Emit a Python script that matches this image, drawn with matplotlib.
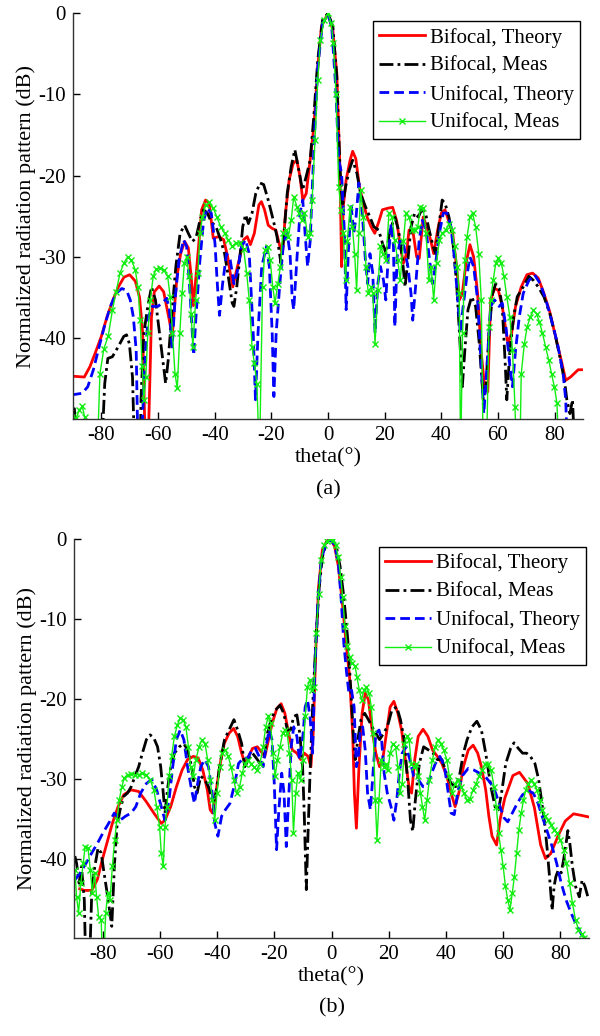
import matplotlib
matplotlib.use("Agg")
import matplotlib.pyplot as plt

plt.rcParams['font.family'] = ['Liberation Serif', 'DejaVu Serif']
plt.rcParams['axes.unicode_minus'] = False
plt.rcParams['font.size'] = 15

LOW = -55  # points below the visible range (clipped by the axes)

# ---------------- panel (a) ----------------
a_bth_x = [-90, -86, -84, -82, -80, -78, -76, -74, -72, -70, -68, -66.5, -65.4, -64.4, -63.6, -62.3, -61.3,
           -59.6, -58, -56, -55, -53.3, -52, -50.6, -49.3, -48.3, -47.5, -45.9, -44.6, -43.2, -41.9, -40.5,
           -38.5, -36.8, -35.4, -34.5, -33.6, -32.5, -31.1, -29.8, -28.5, -27.4, -26, -24.4, -23.5, -22.4,
           -21.1, -19.7, -18.4, -17, -16.1, -15, -13.7, -12.3, -11, -9.9, -8.9, -7.7, -6.3, -5, -3.6, -2.3,
           0, 1.7, 3.1, 4.2, 4.8, 5.4, 6.4, 7.8, 8.7, 9.8, 11.1, 12.5, 13.8, 15.2, 16.5, 17.9, 19.2, 21.2,
           22.8, 24.2, 25.2, 26.6, 27.7, 28.6, 29.9, 31.3, 32.2, 33.6, 34.9, 36.2, 37.3, 38.7, 40, 41.3,
           42.7, 44, 45.4, 46.4, 47.4, 48.7, 50.1, 51.4, 52.8, 54.1, 55.4, 56.4, 57.4, 58.8, 60.1, 61.5,
           63.5, 64.8, 66.2, 68.2, 70.2, 72.2, 74.2, 76.2, 78.3, 80.3, 82.3, 83.9, 85.6, 88.3, 90]
a_bth_y = [-44.7, -44.8, -43.5, -41.7, -39.8, -37.4, -35.4, -33.7, -32.5, -32.2, -33.0, -35.0, -39.4, LOW, LOW,
           -37.4, -34.3, -33.6, -34.3, -37.8, -39.8, -32.4, -29.6, -28.1, -28.9, -32.4, -36.0, -29.6, -24.2,
           -23.0, -23.4, -27.7, -27.5, -27.9, -30.0, -32.0, -33.7, -32.0, -30.0, -27.9, -27.5, -28.5, -27.1,
           -23.6, -23.2, -24.2, -26.1, -26.5, -26.7, -28.7, -29.6, -24.6, -20.5, -18.5, -18.1, -20.1, -23.0,
           -22.2, -18.1, -14.0, -6.6, -1.6, 0, -2.1, -7.4, -18.9, -31.2, -23.8, -20.5, -18.1, -17.0, -17.9,
           -21.4, -23.4, -25.1, -26.3, -27.1, -25.7, -24.2, -24.0, -23.9, -25.5, -27.9, -30.8, -29.6, -26.7,
           -26.7, -30.0, -30.2, -25.1, -26.3, -27.9, -29.6, -26.7, -24.6, -24.2, -25.7, -27.1, -31.2, -35.3,
           -34.5, -30.8, -28.5, -30.0, -34.5, -41.9, -46.4, -46.6, -35.3, -33.9, -34.1, -36.1, -40.7, -39.4,
           -36.1, -33.7, -32.2, -32.0, -32.6, -34.5, -36.8, -39.8, -42.7, -45.2, -44.8, -43.9, -43.9]

a_bme_x = [-90.5, -89.5, -88.6, -80, -78.8, -77.7, -76.1, -74.1, -72.1, -71.1, -70.1, -69, -68.2, -66.3, -66,
           -65, -63.6, -62.3, -60.9, -59.6, -58.3, -57.3, -56.4, -55, -53.7, -52.2, -50.6, -49.3, -47.9, -46.6,
           -45.2, -43.9, -42.6, -41.2, -39.5, -37.9, -36.5, -35.2, -33.8, -33.2, -32.2, -31.1, -30.1, -29.1,
           -28.1, -26.8, -25.5, -24, -22.7, -21.1, -19.3, -18, -16.6, -15.7, -14.4, -13, -11.7, -10.3, -9,
           -7.7, -6.3, -5, -3.6, -1.9, 0, 1.7, 3.1, 4.2, 5.1, 6.2, 7.5, 8.7, 10.2, 11.5, 13.2, 14.8, 16.2,
           17.9, 19.2, 20.5, 21.9, 23.6, 24.9, 26.3, 27.2, 28.2, 29.3, 30.6, 31.9, 33, 34.4, 35.7, 37.1, 38,
           39.1, 40.3, 41.3, 42.7, 44, 45.4, 46.4, 47.4, 48.3, 49.4, 50.7, 52.1, 53.4, 54.8, 55.8, 56.8, 58.1,
           59.2, 60.4, 61.5, 62.6, 63.1, 64.2, 65.5, 66.8, 68.9, 70.9, 72.5, 74.2, 76.2, 78.3, 80.3, 82.3,
           83.6, 84.3, 85.4, 86.3, 87.2]
a_bme_y = [-48.9, -48.7, LOW, LOW, -45.6, -42.5, -42.3, -41.1, -39.8, -39.6, -40.7, -44.8, LOW, LOW, -47.6,
           -39.4, -36.1, -33.7, -35.3, -39.0, -42.7, -45.6, -42.7, -36.5, -31.2, -27.1, -26.1, -27.1, -28.1,
           -27.7, -25.5, -24.2, -24.6, -25.7, -26.3, -27.9, -29.6, -32.4, -35.7, -36.1, -33.7, -30.0, -26.3,
           -24.8, -25.9, -24.6, -22.2, -20.9, -21.1, -23.0, -25.5, -27.5, -30.8, -27.9, -22.2, -18.9, -16.8,
           -19.3, -21.8, -20.1, -18.1, -12.7, -5.7, -0.8, 0, -1.6, -7.8, -18.9, -23.8, -21.4, -19.3, -18.1,
           -19.7, -22.2, -23.8, -25.1, -26.3, -26.7, -28.3, -29.6, -26.7, -25.1, -26.7, -30.4, -33.7, -30.4,
           -26.3, -24.6, -25.1, -24.2, -24.6, -26.7, -28.7, -29.6, -26.3, -23.0, -23.4, -25.1, -27.9, -33.3,
           -39.4, -46.0, -41.5, -36.5, -34.9, -36.1, -40.7, -47.6, -45.6, -39.4, -34.5, -33.3, -33.9, -36.1,
           -43.5, -47.6, -41.5, -37.4, -34.9, -33.7, -32.4, -32.9, -33.7, -34.9, -37.0, -39.8, -43.1, -45.6,
           -47.6, -49.3, -47.6, LOW]

a_uth_x = [-90.5, -86.8, -84.8, -82.8, -80.8, -78.8, -76.8, -74.8, -72.8, -71.1, -69.8, -68.7, -67.7, -67,
           -66, -65.2, -64.4, -63.4, -62, -60, -58, -56.9, -56, -55, -54, -52.6, -51, -49.9, -48.9, -47.9,
           -47.4, -46.6, -45.2, -43.9, -42.6, -41.2, -39.9, -39, -38.3, -37.2, -35.8, -34.5, -33.2, -32.1,
           -30.5, -29.1, -27.8, -26.4, -25.6, -24.7, -23.4, -21.7, -20.7, -19.7, -19.1, -18.3, -17, -15.7,
           -14.4, -13.4, -12.6, -12.1, -11, -9.9, -8.9, -8.1, -7.2, -6.3, -5, -3.6, -1.9, 0, 1.3, 2.7, 3.8,
           4.8, 5.8, 6.4, 7.2, 8.2, 9.1, 9.9, 10.9, 12.1, 13.2, 14, 14.8, 15.8, 16.6, 17.6, 18.5, 19.6, 20.4,
           21.2, 22.3, 23.1, 23.6, 24.4, 25.5, 26.8, 28.2, 29.3, 29.9, 30.9, 32.2, 33.3, 34.6, 36, 36.9, 38,
           39.3, 40.7, 42, 43.4, 44.7, 45.8, 46.7, 47.7, 49, 50.1, 51.4, 52.8, 54.1, 55, 56.1, 57.4, 58.8,
           60.4, 61.5, 62.8, 64.2, 65.1, 66.2, 67.5, 68.9, 70.9, 72.9, 74.9, 76.9, 78.9, 81, 83, 83.9, 84.6]
a_uth_y = [-47.0, -46.8, -46.0, -43.9, -41.1, -38.4, -36.1, -34.5, -33.9, -34.1, -35.3, -37.4, -41.5, LOW,
           LOW, -47.6, -41.5, -37.4, -36.1, -36.1, -35.5, -35.1, -36.5, -41.1, -35.3, -30.4, -27.9, -28.7,
           -33.3, -39.4, -42.1, -37.4, -30.4, -25.5, -24.0, -24.6, -28.3, -33.7, -37.2, -33.3, -29.6, -30.4,
           -33.3, -32.0, -28.7, -27.9, -29.6, -39.4, -47.6, -39.4, -31.2, -28.7, -31.2, -39.4, -47.2, -39.4,
           -33.3, -28.3, -27.1, -29.6, -35.3, -36.5, -30.4, -24.6, -23.0, -27.1, -31.2, -28.1, -16.8, -6.6,
           -1.2, -0.2, -1.6, -9.0, -18.1, -19.7, -27.1, -36.5, -29.2, -23.8, -27.1, -25.1, -20.9, -24.6, -30.4,
           -33.3, -29.6, -32.0, -39.4, -33.3, -31.2, -32.9, -35.3, -30.4, -25.9, -28.7, -38.6, -30.0, -27.9,
           -28.7, -31.2, -34.5, -37.8, -33.7, -27.9, -25.5, -26.7, -30.8, -33.3, -30.8, -27.1, -24.6, -24.6,
           -26.3, -30.4, -35.3, -39.4, -36.1, -32.4, -30.0, -31.2, -35.3, -43.5, -49.3, -43.5, -36.1, -35.3,
           -36.1, -35.7, -38.6, -43.5, -46.0, -41.5, -37.4, -34.5, -32.9, -32.2, -33.3, -35.3, -37.8, -40.7,
           -44.4, -47.6, LOW]

a_ume_x = [-90.2, -88.9, -87.8, -86.7, -85.9, -85, -81.5, -80.5, -79.1, -77.6, -76.1, -74.8, -73.4, -72.1,
           -70.7, -69.4, -68, -67.1, -66.3, -65.6, -65, -64.3, -63.6, -62.7, -61.7, -60.7, -59.3, -58, -56.6,
           -55.7, -54.9, -54, -53.2, -52.3, -51.5, -50.7, -49.9, -49, -48.3, -47.7, -46.7, -45.9, -45.2, -44.3,
           -43.2, -41.9, -40.5, -39.2, -37.9, -36.5, -35.2, -33.8, -32.5, -31.1, -29.8, -28.7, -27.8, -26.8,
           -26, -25.1, -24.2, -23.1, -22.3, -21.3, -20.4, -19.5, -18.7, -17.7, -16.8, -16, -15, -14, -13,
           -12.1, -11, -10.1, -9.3, -8.3, -7.2, -6.4, -5.6, -4.6, -3.6, -2.7, -1.3, 0, 1.1, 1.9, 2.8, 3.8,
           4.6, 5.4, 6.2, 6.8, 7.8, 8.6, 9.4, 10.1, 10.9, 11.5, 12.5, 13.4, 14.2, 15.2, 15.8, 16.6, 17.6,
           18.5, 19.5, 20.5, 21.5, 22.6, 23.5, 24.6, 25.5, 26.6, 27.5, 28.6, 29.7, 30.6, 31.7, 32.6, 33.6,
           34.6, 35.6, 36.4, 37.3, 38.3, 39.3, 40.4, 41.6, 42.7, 43.8, 44.7, 45.6, 46.3, 46.8, 47.5, 48.3,
           49.1, 50.1, 51, 52.1, 53.2, 54.1, 54.8, 55.9, 56.8, 57.4, 58.3, 59.2, 60.1, 61.2, 62.1, 63.1, 64.2,
           65.1, 66, 66.6, 67.7, 68.2, 69.3, 70.3, 71.4, 72.5, 73.6, 74.6, 75.7, 76.8, 77.9, 78.9, 79.9,
           80.8, 81.6]
a_ume_y = [-49.7, -49.9, -48.9, -48.4, -49.7, LOW, LOW, -44.4, -41.3, -39.8, -36.6, -34.3, -32.0, -30.8,
           -30.0, -30.4, -31.6, -33.7, -37.8, -43.5, -47.6, -44.8, -39.4, -35.3, -32.4, -31.5, -31.4, -31.6,
           -32.4, -34.9, -39.4, -44.4, -46.2, -39.4, -34.5, -30.8, -30.0, -32.4, -37.0, -41.1, -35.3, -32.0,
           -27.1, -25.1, -23.6, -23.3, -24.0, -25.1, -26.3, -27.1, -27.9, -28.7, -28.3, -28.3, -29.0, -32.0,
           -35.3, -41.1, -43.1, -45.6, LOW, -33.7, -29.2, -28.8, -30.4, -33.7, -35.7, -33.3, -31.2, -27.1,
           -26.7, -27.5, -25.5, -22.6, -23.8, -24.6, -25.5, -24.6, -27.5, -27.1, -23.0, -15.6, -8.2, -3.3,
           -0.8, 0, -1.2, -3.7, -9.9, -21.4, -24.2, -27.1, -32.9, -28.1, -23.8, -26.3, -29.6, -34.1, -27.1,
           -21.8, -25.1, -31.2, -34.5, -33.7, -34.5, -40.7, -34.1, -28.7, -29.6, -30.4, -24.6, -25.1, -27.9,
           -30.4, -32.9, -28.1, -24.6, -25.1, -26.7, -26.7, -26.3, -23.8, -24.0, -27.1, -32.9, -31.2, -35.3,
           -30.8, -27.9, -27.1, -26.7, -25.9, -26.7, -28.7, -31.2, -34.5, LOW, -39.4, -30.4, -27.5, -25.1,
           -24.6, -26.3, -29.6, -35.3, LOW, LOW, -38.6, -35.3, -32.9, -30.8, -30.2, -30.8, -32.4, -34.9, -37.4,
           -41.5, -48.5, LOW, LOW, -44.4, -40.7, -38.6, -37.4, -36.6, -37.0, -38.0, -39.4, -41.1, -42.7,
           -44.4, -46.0, -48.0, LOW]

# ---------------- panel (b) ----------------
b_bth_x = [-88, -86.4, -83.8, -81.8, -80.3, -78.6, -76.6, -74.6, -72.6, -70, -67.4, -64.7, -62.1, -59.5,
           -58.2, -56.2, -54.2, -52.2, -50.3, -48.3, -46.6, -45, -43.4, -42.4, -41.6, -40.4, -39.1, -37.5,
           -35.8, -34.2, -32.8, -31.4, -30.3, -29, -27.6, -25.9, -24.6, -23.3, -22, -20.7, -19.1, -17.6,
           -16.3, -15, -13.7, -12.1, -10.8, -9.5, -8.2, -7.2, -6.4, -5.5, -4.5, -3.2, -1.6, -0.3, 1.1, 2.4,
           3.7, 5, 6.3, 7.4, 8, 8.7, 9.6, 10.7, 11.8, 12.9, 14.2, 15.5, 16.8, 17.9, 19.2, 20.5, 21.8, 23.2,
           24.5, 25.8, 27.1, 28, 29.1, 30.3, 32, 33.7, 35.3, 37, 38.6, 40.3, 41.8, 43.2, 44.5, 46.1, 47.8,
           49.5, 51.1, 52.4, 53.9, 55, 56.1, 57.7, 59, 60.6, 63.4, 65.7, 68.6, 70.9, 73.1, 74.8, 76.6, 79.4,
           81.7, 84.6, 87.4, 90]
b_bth_y = [-43.8, -44.0, -44.0, -42.6, -40.4, -38.2, -35.6, -33.5, -32.0, -31.4, -31.6, -32.9, -34.3, -35.6,
           -35.2, -33.5, -31.0, -28.9, -27.6, -27.2, -27.4, -28.9, -31.4, -33.9, -34.3, -31.8, -28.5, -25.6,
           -24.3, -23.7, -24.7, -26.8, -28.1, -27.2, -26.2, -26.0, -26.6, -27.2, -25.1, -23.0, -21.2, -20.6,
           -21.8, -24.3, -26.4, -26.8, -27.6, -26.8, -27.2, -28.5, -24.3, -13.9, -5.9, -1.3, -0.2, 0, -0.9,
           -3.4, -7.6, -12.6, -17.2, -24.3, -31.8, -36.2, -28.5, -21.8, -19.3, -20.1, -23.9, -26.8, -28.5,
           -27.6, -24.3, -21.0, -20.3, -21.8, -23.9, -27.6, -31.0, -31.8, -27.6, -24.7, -23.8, -24.7, -26.4,
           -27.2, -28.1, -29.7, -31.8, -33.5, -31.8, -28.5, -26.4, -25.8, -26.8, -28.5, -31.4, -34.7, -37.2,
           -38.3, -35.0, -32.4, -29.6, -29.2, -30.6, -33.6, -38.3, -40.0, -39.4, -37.0, -35.3, -34.4, -34.6,
           -34.8]

b_bme_x = [-89.7, -89.1, -88.2, -87.4, -86.4, -85.8, -84.7, -83.8, -82.9, -81.6, -80.5, -79.5, -78.6, -77.6,
           -76.8, -75.9, -75, -73.9, -72.6, -71.3, -70, -68.7, -67.4, -66.1, -64.7, -63.4, -62.1, -60.8,
           -59.7, -58.8, -58.2, -57.2, -56.2, -54.9, -53.2, -51.6, -50.3, -48.9, -47.9, -47, -45.7, -44.3,
           -43, -41.3, -40.4, -39.1, -37.4, -35.8, -34.1, -32.8, -31.4, -30.3, -29, -27.6, -25.9, -24.3,
           -23.3, -22.4, -21.1, -19.6, -18, -16.7, -15.4, -14.3, -13.2, -12.1, -11.1, -10.1, -9.5, -8.8,
           -8.2, -7.5, -6.6, -5.5, -4.5, -3.2, -1.6, 0, 1.7, 3, 4.3, 5.7, 6.7, 7.6, 8.3, 9.2, 10.3, 11.6,
           12.9, 14.2, 15.5, 16.8, 18.2, 19.5, 21.1, 22.8, 24.1, 25.4, 26.7, 27.6, 28.4, 29.3, 30.7, 32.2,
           33.9, 35.5, 37, 38.6, 40.1, 41.8, 43.4, 44.7, 46.1, 47.4, 49.1, 50.8, 52.4, 53.9, 55.7, 57.4,
           58.4, 59.6, 60.9, 62.6, 63.8, 65.3, 66.8, 68.2, 69.5, 71.1, 72.4, 73.4, 74.5, 75.4, 76.3, 77.1,
           77.8, 78.4, 79.3, 80.3, 81.1, 82, 82.6, 83.3, 84.2, 85.3, 86.6, 87.6, 88.6, 89.6]
b_bme_y = [-39.7, -40.6, -43.1, -41.0, -45.2, LOW, LOW, -44.3, -41.4, -38.7, -39.3, -41.8, -43.9, -46.4,
           -48.5, -41.0, -36.0, -33.9, -32.2, -31.8, -31.0, -29.7, -28.5, -26.8, -25.1, -24.5, -24.9, -26.0,
           -28.5, -31.8, -34.3, -31.0, -28.5, -26.8, -26.0, -25.6, -26.4, -28.5, -31.0, -31.8, -29.7, -30.1,
           -31.0, -33.1, -31.8, -28.5, -25.1, -23.9, -22.6, -23.9, -25.6, -28.5, -27.6, -26.8, -27.6, -28.5,
           -26.8, -24.3, -22.6, -21.4, -20.8, -21.8, -23.9, -23.9, -22.2, -22.0, -24.3, -28.5, -34.7, -43.9,
           -36.8, -29.3, -21.0, -13.0, -6.8, -2.2, -0.3, 0, -0.9, -3.4, -7.2, -12.6, -18.5, -24.3, -27.6,
           -25.1, -22.6, -21.8, -22.6, -23.5, -24.3, -25.1, -24.3, -23.5, -21.4, -21.0, -22.6, -25.1, -30.6,
           -35.2, -36.6, -32.7, -28.1, -26.0, -26.4, -26.8, -27.6, -27.6, -29.3, -30.6, -31.0, -29.7, -26.8,
           -25.1, -23.5, -22.8, -23.9, -26.8, -31.0, -33.9, -33.9, -31.4, -28.1, -26.2, -25.5, -26.2, -26.8,
           -26.8, -27.2, -28.1, -30.1, -32.7, -35.6, -38.9, -42.7, -46.5, -43.5, -42.3, -41.4, -41.8, -40.2,
           -38.1, -36.5, -38.1, -41.0, -43.5, -44.8, -42.7, -43.5, -44.8]

b_uth_x = [-89.7, -87.8, -85.8, -83.8, -81.8, -79.9, -77.9, -75.9, -73.9, -72, -70, -68.4, -66.7, -64.7,
           -62.8, -61.1, -59.5, -58.2, -56.8, -55.5, -54.2, -52.9, -51.6, -50.3, -48.9, -47.9, -47, -45.7,
           -44.3, -43, -41.7, -40.8, -39.7, -38.4, -37.1, -35.5, -33.8, -32.5, -30.8, -29.2, -27.9, -26.6,
           -25.3, -23.9, -22.9, -21.8, -20.8, -20, -19.2, -18.4, -17.4, -16.6, -15.8, -15, -14.1, -13.2,
           -12.1, -11.2, -10.1, -9.2, -8.4, -7.5, -6.6, -5.8, -4.7, -3.6, -1.8, -0.3, 1.1, 2.4, 3.4, 4.3,
           5.3, 6.1, 7, 7.9, 8.7, 9.3, 10, 10.9, 11.8, 12.6, 13.6, 14.5, 15.5, 16.6, 17.5, 18.4, 19.5, 20.8,
           21.8, 22.8, 23.7, 24.7, 26.1, 27.4, 28.7, 30.3, 32, 33.3, 34.6, 36.3, 37.9, 39.5, 40.8, 41.8,
           42.9, 44.2, 45.8, 47.8, 49.7, 51.7, 53.7, 55.7, 57.4, 58.9, 60.3, 61.6, 63.2, 64.9, 66.8, 68.8,
           70.5, 72.1, 73.7, 75.4, 77.1, 78.7, 80.3, 82, 83.7, 85.3, 87.2, 89.2]
b_uth_y = [-42.7, -41.8, -40.6, -39.3, -38.1, -36.8, -35.6, -34.3, -35.2, -34.7, -34.3, -33.5, -31.8, -30.6,
           -30.1, -31.4, -33.5, -35.2, -32.7, -28.5, -25.1, -23.9, -25.1, -28.5, -31.4, -33.1, -31.0, -28.5,
           -27.6, -28.5, -31.8, -35.6, -37.2, -34.7, -33.9, -33.1, -30.6, -28.1, -27.4, -27.4, -26.4, -26.2,
           -27.2, -28.5, -26.0, -23.9, -25.1, -30.6, -38.9, -33.9, -29.3, -31.8, -38.5, -32.7, -26.0, -23.5,
           -24.7, -27.6, -25.1, -21.0, -20.1, -22.2, -26.8, -15.9, -7.6, -2.6, -0.3, -0.1, -0.7, -3.0, -7.6,
           -13.0, -16.8, -19.3, -18.9, -21.0, -28.5, -27.6, -24.3, -23.5, -26.4, -31.8, -33.9, -29.3, -24.3,
           -23.9, -25.1, -29.3, -31.8, -33.5, -35.2, -32.7, -29.3, -26.8, -26.0, -27.6, -29.7, -30.1, -31.0,
           -31.0, -29.7, -28.1, -27.2, -28.5, -31.8, -34.3, -34.5, -31.5, -29.6, -28.7, -28.9, -29.3, -29.7,
           -30.6, -31.8, -33.5, -34.9, -35.4, -34.3, -33.1, -32.0, -31.5, -31.8, -33.0, -34.8, -36.6, -38.5,
           -40.6, -43.1, -45.2, -46.8, -48.1, -49.4, -50.5]

b_ume_x = [-89.7, -89.1, -88.4, -87.6, -86.8, -86.1, -85.1, -84.3, -83.6, -82.8, -82.1, -81.4, -80.5, -79.9,
           -78.9, -78.2, -77.4, -76.6, -75.8, -75, -74.2, -73.3, -72.4, -71.3, -70, -68.7, -67.4, -66.1, -64.7,
           -63.4, -62.1, -61.1, -60.1, -59.5, -58.8, -58.2, -57.5, -56.8, -55.9, -54.9, -53.9, -52.9, -51.8,
           -50.9, -50, -49.2, -48.3, -47.4, -46.3, -45.3, -44.2, -43.3, -42.4, -41.6, -40.8, -40, -39.1,
           -38.2, -37.1, -36.1, -35.1, -34.2, -33.2, -32.1, -31.2, -30.3, -29.2, -28.2, -27.1, -26.1, -25,
           -23.9, -23, -22.1, -21.3, -20.5, -19.7, -18.9, -18, -17.1, -16.3, -15.5, -14.7, -13.9, -13.3,
           -12.5, -11.7, -10.8, -10, -9.2, -8.4, -7.6, -6.8, -6.1, -5.3, -4.5, -3.6, -2.6, -1.6, -0.5, 0.5,
           1.4, 2.4, 3.2, 3.9, 4.7, 5.5, 6.3, 7.2, 8.2, 8.9, 9.7, 10.5, 11.3, 12.2, 13.2, 13.9, 14.6, 15.3,
           15.9, 16.6, 17.4, 18.2, 18.9, 19.7, 20.5, 21.4, 22.4, 23.2, 23.9, 24.7, 25.5, 26.3, 27.1, 27.9,
           28.7, 29.5, 30.3, 31.1, 31.8, 32.6, 33.4, 34.2, 35.3, 36.3, 37.2, 38.2, 39.2, 40.3, 41.2, 42.1,
           43.2, 44.2, 45.3, 46.3, 47.4, 48.4, 49.5, 50.5, 51.6, 52.6, 53.7, 54.7, 55.8, 56.8, 57.6, 58.4,
           59.2, 60, 60.8, 61.6, 62.4, 63.2, 63.9, 64.7, 65.5, 66.3, 67.1, 67.9, 68.8, 69.7, 70.8, 71.8,
           72.8, 73.7, 74.7, 75.8, 76.8, 77.9, 78.9, 80, 81.1, 82.1, 83.2, 84.2, 85.3, 86.3, 87.4, 88.2]
b_ume_y = [-41.4, -44.8, -46.8, -43.1, -40.6, -38.5, -38.7, -41.4, -44.3, -41.8, -44.8, -47.3, -47.7, LOW,
           -46.8, -44.3, -45.2, -41.0, -37.7, -35.2, -32.7, -31.0, -29.9, -29.5, -29.4, -29.5, -29.5, -29.3,
           -29.5, -30.1, -31.4, -33.5, -36.0, -39.3, -41.0, -36.0, -33.5, -29.7, -27.2, -24.7, -23.3, -22.4,
           -22.6, -23.5, -26.0, -28.5, -29.7, -27.6, -26.0, -25.1, -25.6, -27.6, -30.1, -32.7, -35.2, -31.8,
           -28.5, -26.8, -26.4, -27.2, -28.5, -30.1, -31.8, -31.0, -29.3, -28.1, -27.6, -28.1, -28.5, -28.9,
           -28.1, -26.0, -23.5, -22.2, -23.0, -26.8, -29.7, -27.6, -26.0, -24.3, -23.9, -24.3, -26.8, -30.1,
           -36.8, -31.8, -29.3, -30.1, -27.6, -22.2, -18.5, -17.6, -18.9, -18.5, -11.8, -6.8, -2.6, -0.7,
           -0.2, 0, -0.1, -0.7, -2.2, -4.7, -7.2, -10.9, -13.4, -14.7, -15.5, -15.9, -17.2, -18.9, -20.1,
           -18.9, -18.5, -19.3, -21.0, -24.3, -32.7, -37.7, -32.7, -27.6, -28.5, -28.1, -28.9, -26.8, -25.6,
           -26.0, -28.5, -31.8, -30.6, -25.6, -24.7, -25.1, -28.1, -28.5, -28.1, -29.7, -31.8, -33.5, -35.2,
           -32.7, -30.1, -27.6, -26.0, -25.1, -25.6, -26.4, -27.6, -29.7, -31.8, -30.6, -30.1, -31.0, -31.8,
           -32.7, -32.5, -31.4, -30.6, -29.7, -28.9, -28.1, -28.1, -28.9, -31.0, -33.5, -36.8, -38.9, -41.0,
           -43.5, -45.2, -46.4, -44.3, -42.3, -39.3, -36.4, -34.3, -32.7, -31.4, -30.6, -30.1, -30.6, -31.4,
           -32.7, -33.9, -34.7, -35.2, -35.8, -36.4, -36.8, -37.7, -38.9, -40.6, -43.1, -45.6, -47.7, -48.9,
           -49.4, -50.0]

labels = ['Bifocal, Theory', 'Bifocal, Meas', 'Unifocal, Theory', 'Unifocal, Meas']
x_ticks = [-80, -60, -40, -20, 0, 20, 40, 60, 80]
y_ticks = [-40, -30, -20, -10, 0]

panels = [
    ('(a)', [73 / 600, 0.5953, 510 / 600, 0.3919],
     (a_bth_x, a_bth_y), (a_bme_x, a_bme_y), (a_uth_x, a_uth_y), (a_ume_x, a_ume_y)),
    ('(b)', [74 / 600, 0.0943, 515 / 600, 0.3851],
     (b_bth_x, b_bth_y), (b_bme_x, b_bme_y), (b_uth_x, b_uth_y), (b_ume_x, b_ume_y)),
]

fig = plt.figure(figsize=(6, 10.36), dpi=100)

for tag, rect, bth, bme, uth, ume in panels:
    ax = fig.add_axes(rect)
    ax.plot(bth[0], bth[1], color='#ff0000', lw=2.0, label=labels[0])
    ax.plot(bme[0], bme[1], color='black', lw=2.0, ls=(0, (5, 1.5, 1, 1.5)), label=labels[1])
    ax.plot(uth[0], uth[1], color='#0000ff', lw=2.0, ls=(0, (3.5, 1.8)), label=labels[2])
    ax.plot(ume[0], ume[1], color='#11ee11', lw=1.0, marker='x', ms=4, mew=1.0, label=labels[3])
    ax.set_xlim(-90, 90)
    ax.set_ylim(-50, 0)
    ax.set_xticks(x_ticks)
    ax.set_yticks(y_ticks)
    ax.tick_params(direction='in', length=5, width=1, labelsize=15, pad=5)
    for s in ['top', 'right']:
        ax.spines[s].set_visible(False)
    for s in ['left', 'bottom']:
        ax.spines[s].set_linewidth(1.0)
        ax.spines[s].set_color('#333333')
    ax.set_xlabel('theta(°)', fontsize=16, labelpad=2)
    ax.set_ylabel('Normalized radiation pattern (dB)', fontsize=16, labelpad=2)
    leg = ax.legend(loc='upper right', bbox_to_anchor=(0.995, 0.98), fontsize=15, frameon=True,
                    fancybox=False, framealpha=1, edgecolor='black', borderpad=0.3,
                    labelspacing=0.42, handlelength=2.2, handletextpad=0.25, borderaxespad=0)
    leg.get_frame().set_linewidth(1.0)
    ax.text(0.5, -0.175, tag, transform=ax.transAxes, ha='center', va='center', fontsize=16)

fig.savefig('out.png', dpi=100)
